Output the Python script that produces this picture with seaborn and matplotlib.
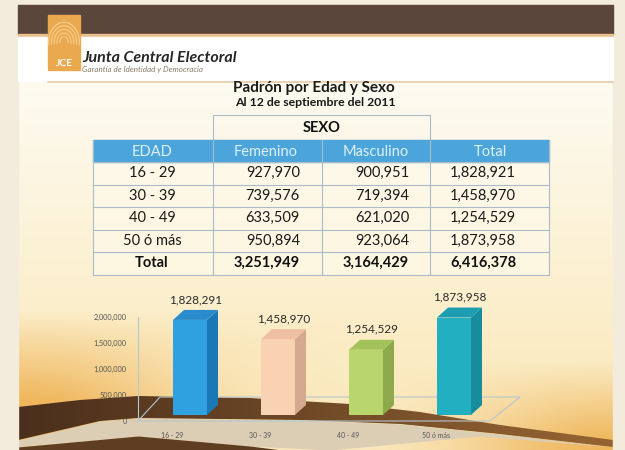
"""
plot.py - Padrón por Edad y Sexo (JCE slide, 12 sept 2011).
"""

import numpy as np
import pandas as pd
import matplotlib
matplotlib.use("Agg")
import matplotlib.pyplot as plt
import matplotlib.transforms as mtransforms
from matplotlib.patches import Rectangle, Polygon
import seaborn as sns

# Table values as printed on the slide
edad = ["16 - 29", "30 - 39", "40 - 49", "50 ó más"]
femenino = [927970, 739576, 633509, 950894]
masculino = [900951, 719394, 621020, 923064]
total = [1828921, 1458970, 1254529, 1873958]
totales = [3251949, 3164429, 6416378]

# Bar chart values (the slide labels the first bar 1,828,291)
bar_values = [1828291, 1458970, 1254529, 1873958]
y_ticks = [0, 500000, 1000000, 1500000, 2000000]

# Front / side / top colours of the 3D bars
bar_colors = ["#2fa0e0", "#f9d1b3", "#b8d66b", "#22afc2"]
side_colors = ["#1b78b6", "#d5a98f", "#8da94b", "#178c9c"]
top_colors = ["#2a8ccc", "#eebfa2", "#a3c259", "#1c9db0"]

sns.set_theme(style="white")
plt.rcParams["font.family"] = ["Lato", "DejaVu Sans"]

W, H = 625, 450
fig = plt.figure(figsize=(6.25, 4.5), dpi=100)

# ---- background layer, drawn in pixel coordinates ----
bg = fig.add_axes([0, 0, 1, 1])
bg.set_xlim(0, W)
bg.set_ylim(H, 0)
bg.axis("off")

yy, xx = np.mgrid[0:H, 0:W].astype(float)
cream_top = np.array([253, 250, 240]) / 255
cream_low = np.array([251, 236, 196]) / 255
orange = np.array([238, 176, 80]) / 255
t = np.clip((yy - 90) / 260, 0, 1)[..., None]
img = cream_top * (1 - t) + cream_low * t
# orange glow on the left above the wave and at bottom right
w_left = (np.exp(-((xx - 20) / 170) ** 2) * np.clip((yy - 310) / 90, 0, 1))[..., None]
w_right = (np.exp(-((xx - 620) / 160) ** 2) * np.clip((yy - 360) / 80, 0, 1))[..., None]
w = np.clip(w_left + w_right, 0, 1) * 0.9
img = img * (1 - w) + orange * w
bg.imshow(img, extent=(0, W, H, 0), aspect="auto", zorder=0)

# brown swoosh with a left-to-right gradient
wx = np.linspace(18, 613, 300)
top_edge = np.interp(wx, [18, 80, 138, 250, 350, 420, 500, 613],
                     [407, 400, 396, 398, 404, 412, 425, 440])
bot_edge = np.interp(wx, [18, 100, 138, 300, 400, 500, 613],
                     [440, 421, 418, 420, 424, 434, 447])
light_edge = np.interp(wx, [18, 138, 250, 330, 480, 613],
                       [447, 436, 446, 450, 436, 447])
low_edge = np.interp(wx, [18, 138, 250, 330],
                     [447, 436, 446, 456])

band = Polygon(np.column_stack([np.r_[wx, wx[::-1]],
                                np.r_[top_edge, bot_edge[::-1]]]),
               closed=True, fc="none", ec="none", zorder=1)
bg.add_patch(band)
brown_l = np.array([74, 47, 28]) / 255
brown_r = np.array([150, 100, 50]) / 255
s = np.linspace(0, 1, 200)[None, :, None]
grad = brown_l * (1 - s) + brown_r * s
grad_im = bg.imshow(np.repeat(grad, 2, axis=0), extent=(18, 613, 450, 390),
                    aspect="auto", zorder=1)
grad_im.set_clip_path(band)
bg.fill_between(wx, bot_edge, np.maximum(light_edge, bot_edge),
                color="#dccdb5", lw=0, zorder=1)
bg.fill_between(wx, low_edge, np.full_like(wx, 452),
                where=low_edge < 452, color="#5e3d22", lw=0, zorder=1)

# outer page margins
bg.add_patch(Rectangle((0, 0), 18, H, color="#f3ebdb", zorder=2))
bg.add_patch(Rectangle((613, 0), 12, H, color="#f3ebdb", zorder=2))
bg.add_patch(Rectangle((0, 0), W, 5, color="#f3ebdb", zorder=2))

# header band and white strip
bg.add_patch(Rectangle((18, 5), 595, 29, color="#5a463a", zorder=2))
bg.add_patch(Rectangle((18, 34), 595, 3, color="#e9c08e", zorder=2))
bg.add_patch(Rectangle((18, 37), 595, 44, color="#ffffff", zorder=2))
bg.plot([48, 613], [81.5, 81.5], color="#e8c9a6", lw=1.2, zorder=3)

# logo
bg.add_patch(Rectangle((48, 15), 32, 55, color="#eba94f", zorder=3))
for r in [6, 10, 14, 18, 22]:
    th = np.linspace(np.pi * 0.95, np.pi * 2.05, 40)
    bg.plot(64 + r * np.cos(th) * 0.7, 42 + r * np.sin(th) * 0.9,
            color="#f6cf8e", lw=0.8, zorder=4)
bg.text(64, 64, "JCE", color="white", fontsize=7.5, weight="bold",
        ha="center", va="center", zorder=5)
bg.text(82, 62, "Junta Central Electoral", fontsize=11.5, weight="bold",
        style="italic", color="#262626", va="baseline", zorder=5)
bg.text(82, 69.5, "Garantía de Identidad y Democracia", fontsize=5.8,
        style="italic", color="#8a7a66", va="center", zorder=5)

# titles
bg.text(314, 88, "Padrón por Edad y Sexo", fontsize=11, weight="bold",
        color="#1a1a1a", ha="center", va="center", zorder=5)
bg.text(315, 102, "Al 12 de septiembre del 2011", fontsize=8.8,
        weight="bold", color="#1a1a1a", ha="center", va="center", zorder=5)

# ---- table ----
col_edges = [93, 213, 322, 430, 549]
row_top = 162
row_h = 22.5
grid_c = "#a9bcc8"

bg.add_patch(Rectangle((213, 115), 217, 25, fill=False, ec=grid_c, lw=0.8,
                       zorder=5))
bg.text(321.5, 128, "SEXO", fontsize=10.5, weight="bold", color="#111111",
        ha="center", va="center", zorder=6)

bg.add_patch(Rectangle((93, 140), 456, 22, color="#4ba4da", zorder=5))
headers = ["EDAD", "Femenino", "Masculino", "Total"]
header_x = [152, 266, 376, 490]
for hx, label in zip(header_x, headers):
    bg.text(hx, 151.5, label, fontsize=10.5, color="#dff2fb",
            ha="center", va="center", zorder=6)

n_rows = len(edad) + 1
bg.add_patch(Rectangle((93, row_top), 456, row_h * n_rows, color="#fffbee",
                       alpha=0.55, zorder=4))
for i in range(n_rows + 1):
    y = row_top + i * row_h
    bg.plot([93, 549], [y, y], color=grid_c, lw=0.8, zorder=5)
for x in col_edges:
    bg.plot([x, x], [140, row_top + row_h * n_rows], color=grid_c, lw=0.8,
            zorder=5)

for i, lab in enumerate(edad):
    y = row_top + (i + 0.5) * row_h
    bg.text(152, y, lab, fontsize=10.5, color="#1a1a1a", ha="center",
            va="center", zorder=6)
    bg.text(300, y, f"{femenino[i]:,}", fontsize=10.5, color="#1a1a1a",
            ha="right", va="center", zorder=6)
    bg.text(409, y, f"{masculino[i]:,}", fontsize=10.5, color="#1a1a1a",
            ha="right", va="center", zorder=6)
    bg.text(483, y, f"{total[i]:,}", fontsize=10.5, color="#1a1a1a",
            ha="center", va="center", zorder=6)

y = row_top + (len(edad) + 0.5) * row_h
bg.text(152, y, "Total", fontsize=10.5, weight="bold", color="#111111",
        ha="center", va="center", zorder=6)
bg.text(300, y, f"{totales[0]:,}", fontsize=10.5, weight="bold",
        color="#111111", ha="right", va="center", zorder=6)
bg.text(409, y, f"{totales[1]:,}", fontsize=10.5, weight="bold",
        color="#111111", ha="right", va="center", zorder=6)
bg.text(483, y, f"{totales[2]:,}", fontsize=10.5, weight="bold",
        color="#111111", ha="center", va="center", zorder=6)

# ---- bar chart ----
ax = fig.add_axes([138 / W, (H - 415) / H, 382 / W, 114.4 / H])
ax.patch.set_alpha(0)

df = pd.DataFrame({"edad": edad, "valor": bar_values})
sns.barplot(data=df, x="edad", y="valor", hue="edad", palette=bar_colors,
            width=0.386, saturation=1, legend=False, ax=ax, zorder=3)
ax.set_xlim(-0.591, 3.75)
ax.set_ylim(0, 2.2e6)

# floor outline and left axis line (3D look)
px = 1e6 / 52  # data units per pixel on the value axis
floor = Polygon([(-0.591, -6 * px), (3.41, -6 * px), (3.75, 18 * px),
                 (-0.341, 18 * px)], closed=True, fill=False,
                ec="#b5c7cf", lw=0.8, clip_on=False, zorder=1)
ax.add_patch(floor)
ax.plot([-0.591, -0.591], [-6 * px, 2e6 - 6 * px], color="#b5c7cf", lw=0.8,
        clip_on=False, zorder=1)

dx, dy = 0.125, 10 * px
for p, sc, tc in zip(ax.patches, side_colors, top_colors):
    x0, wdt, h = p.get_x(), p.get_width(), p.get_height()
    p.set_edgecolor("none")
    ax.add_patch(Polygon([(x0 + wdt, 0), (x0 + wdt + dx, dy),
                          (x0 + wdt + dx, h + dy), (x0 + wdt, h)],
                         closed=True, color=sc, lw=0, clip_on=False, zorder=3))
    ax.add_patch(Polygon([(x0, h), (x0 + wdt, h), (x0 + wdt + dx, h + dy),
                          (x0 + dx, h + dy)],
                         closed=True, color=tc, lw=0, clip_on=False, zorder=3))
    ax.text(x0 + wdt / 2 + dx / 2, h + dy + 5 * px, f"{int(h):,}",
            fontsize=8.5, color="#2a2a2a", ha="center", va="bottom",
            clip_on=False)

ax.set_yticks(y_ticks)
ax.set_yticklabels([f"{v:,}" for v in y_ticks])
ax.tick_params(axis="y", length=0, pad=8, labelsize=5.3, labelcolor="#555555")
ax.tick_params(axis="x", length=0, pad=12, labelsize=5, labelcolor="#555555")
ax.set_xlabel("")
ax.set_ylabel("")
sns.despine(ax=ax, left=True, bottom=True)

shift_y = mtransforms.ScaledTranslation(0, -6 / 100, fig.dpi_scale_trans)
for lbl in ax.get_yticklabels():
    lbl.set_transform(lbl.get_transform() + shift_y)
shift_x = mtransforms.ScaledTranslation(-18 / 100, 0, fig.dpi_scale_trans)
for lbl in ax.get_xticklabels():
    lbl.set_transform(lbl.get_transform() + shift_x)

fig.savefig("out.png", dpi=100)
